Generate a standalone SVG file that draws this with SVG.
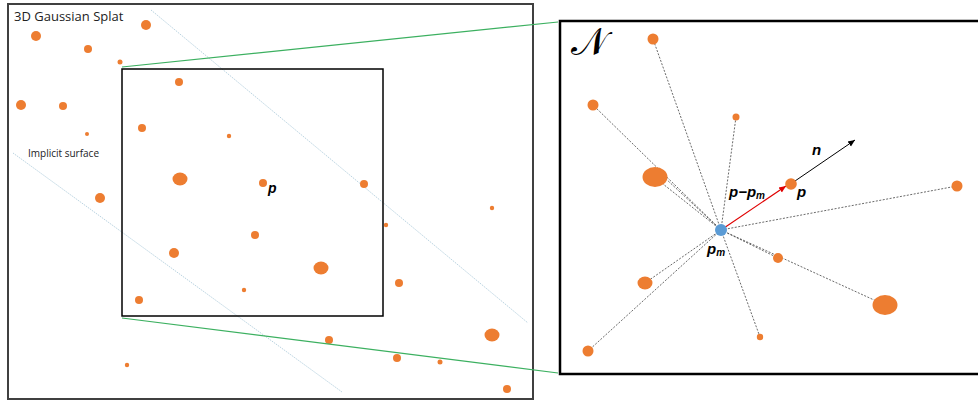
<svg xmlns="http://www.w3.org/2000/svg" width="978" height="400" viewBox="0 0 978 400">
<style>
.dot{fill:#ED7D31}
.frame{fill:none}
.dash{stroke:#444;stroke-width:0.8;stroke-dasharray:2 1.5;fill:none}
.surf{stroke:#a8c8d8;stroke-width:0.8;stroke-dasharray:1.5 1;fill:none}
.zoom{stroke:#3cb060;stroke-width:1.2;fill:none}
.lbl{font-family:"Liberation Sans",Arial,sans-serif;font-weight:bold;font-style:italic;fill:#000}
.cap{font-family:"Open Sans","Liberation Sans",sans-serif;fill:#222}
</style>
<defs>
<marker id="ahR" markerWidth="8" markerHeight="8" refX="7" refY="4" orient="auto" markerUnits="userSpaceOnUse"><path d="M0,1 L7,4 L0,7 z" fill="#e00000"/></marker>
<marker id="ahK" markerWidth="8" markerHeight="8" refX="7" refY="4" orient="auto" markerUnits="userSpaceOnUse"><path d="M0,1 L7,4 L0,7 z" fill="#000"/></marker>
</defs>
<rect width="978" height="400" fill="#fff"/>

<g id="splat-panel">
<rect x="8" y="4" width="525" height="395" fill="none" stroke="#404040" stroke-width="2"/>
<text class="cap" x="14" y="21" font-size="13">3D Gaussian Splat</text>
<text class="cap" x="28" y="157" font-size="10">Implicit surface</text>
</g>

<g id="surface">
<line class="surf" x1="151" y1="10" x2="528" y2="323"/>
<line class="surf" x1="13" y1="153" x2="342" y2="392"/>
</g>

<g id="zoom-box">
<rect x="122" y="69" width="261" height="247" fill="none" stroke="#000" stroke-width="1.5"/>
</g>

<g id="splats-left">
<circle class="dot" cx="36" cy="36" r="5"/>
<circle class="dot" cx="146" cy="25" r="5"/>
<circle class="dot" cx="88" cy="49" r="4"/>
<circle class="dot" cx="120" cy="62" r="2.5"/>
<circle class="dot" cx="21" cy="105" r="5"/>
<circle class="dot" cx="63" cy="106" r="4"/>
<circle class="dot" cx="87" cy="134" r="2"/>
<circle class="dot" cx="179" cy="82" r="4"/>
<circle class="dot" cx="142" cy="128" r="4"/>
<circle class="dot" cx="229" cy="136" r="2.2"/>
<ellipse class="dot" cx="180" cy="179" rx="7.5" ry="6.5"/>
<circle class="dot" cx="263" cy="183" r="4"/>
<circle class="dot" cx="100" cy="198" r="5"/>
<circle class="dot" cx="255" cy="235" r="4"/>
<circle class="dot" cx="174" cy="253" r="5"/>
<ellipse class="dot" cx="321" cy="268" rx="7.5" ry="6.5"/>
<circle class="dot" cx="244" cy="290" r="2.2"/>
<circle class="dot" cx="139" cy="300" r="4"/>
<circle class="dot" cx="127" cy="365" r="2.2"/>
<circle class="dot" cx="364" cy="184" r="4"/>
<circle class="dot" cx="492" cy="208" r="2.2"/>
<circle class="dot" cx="386" cy="225" r="2.2"/>
<circle class="dot" cx="399" cy="283" r="4"/>
<circle class="dot" cx="329" cy="340" r="4"/>
<ellipse class="dot" cx="492" cy="335" rx="7.5" ry="6.5"/>
<circle class="dot" cx="397" cy="358" r="4"/>
<circle class="dot" cx="440" cy="362" r="2.5"/>
<circle class="dot" cx="507" cy="389" r="4"/>
<text class="lbl" x="268" y="193" font-size="14">p</text>
</g>

<g id="connectors">
<line class="zoom" x1="122" y1="67" x2="558" y2="22"/>
<line class="zoom" x1="122" y1="318" x2="558" y2="373"/>
<line class="dash" x1="721" y1="230" x2="653" y2="39"/>
<line class="dash" x1="721" y1="230" x2="593" y2="105"/>
<line class="dash" x1="721" y1="230" x2="736" y2="117"/>
<line class="dash" x1="721" y1="230" x2="666" y2="179"/>
<line class="dash" x1="721" y1="230" x2="663" y2="184"/>
<line class="dash" x1="721" y1="230" x2="645" y2="283"/>
<line class="dash" x1="721" y1="230" x2="588" y2="351"/>
<line class="dash" x1="721" y1="230" x2="760" y2="337"/>
<line class="dash" x1="721" y1="230" x2="778" y2="258"/>
<line class="dash" x1="721" y1="230" x2="885" y2="305"/>
<line class="dash" x1="721" y1="230" x2="957" y2="186"/>
<line x1="721" y1="230" x2="786" y2="186" stroke="#e00000" stroke-width="1.2" marker-end="url(#ahR)"/>
<line x1="795" y1="181" x2="855" y2="140" stroke="#000" stroke-width="1" marker-end="url(#ahK)"/>
</g>

<g id="neighborhood-panel">
<rect x="560" y="21" width="430" height="353" fill="none" stroke="#000" stroke-width="2.5"/>
<text x="571" y="55" font-family="'DejaVu Serif','Liberation Serif',serif" font-size="38" fill="#000">𝒩</text>
</g>

<g id="splats-right">
<circle class="dot" cx="653" cy="39" r="5.5"/>
<circle class="dot" cx="593" cy="105" r="5.5"/>
<circle class="dot" cx="736" cy="117" r="3.5"/>
<ellipse class="dot" cx="655" cy="177" rx="12.5" ry="10"/>
<ellipse class="dot" cx="645" cy="283" rx="7.5" ry="6.5"/>
<circle class="dot" cx="588" cy="351" r="5.5"/>
<circle class="dot" cx="760" cy="337" r="3.2"/>
<circle class="dot" cx="778" cy="258" r="5"/>
<ellipse class="dot" cx="885" cy="305" rx="12.5" ry="10"/>
<circle class="dot" cx="957" cy="186" r="5.5"/>
</g>

<g id="node-p">
<circle class="dot" cx="791" cy="184" r="5.8"/>
<text class="lbl" x="797" y="197" font-size="15">p</text>
</g>

<g id="node-pm">
<circle cx="721" cy="230" r="6" fill="#5B9BD5"/>
<text class="lbl" x="707" y="254" font-size="15">p<tspan font-size="10" dy="2">m</tspan></text>
</g>

<g id="labels">
<text class="lbl" x="729" y="197" font-size="15">p−p<tspan font-size="10" dy="2">m</tspan></text>
<text class="lbl" x="812" y="155" font-size="15">n</text>
</g>
</svg>
